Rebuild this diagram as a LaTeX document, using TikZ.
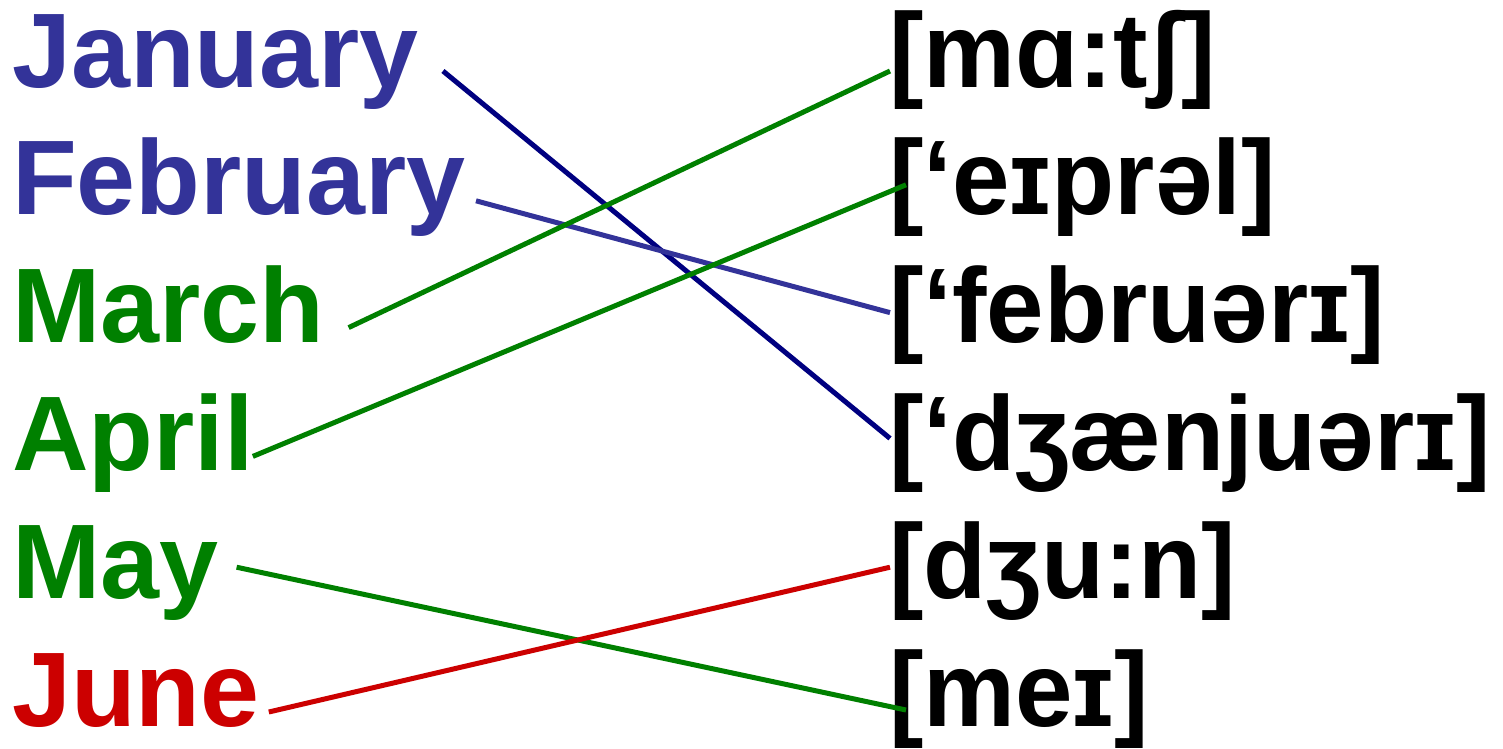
\documentclass[tikz,border=0pt]{standalone}
\usepackage{fontspec}
\setmainfont{Liberation Sans}
\newfontfamily\ipafont{Liberation Sans}[FakeStretch=0.975]
\definecolor{monthblue}{RGB}{51,51,153}
\definecolor{monthgreen}{RGB}{0,128,0}
\definecolor{monthred}{RGB}{204,0,0}
\definecolor{navyline}{RGB}{0,0,128}

\begin{document}
\begin{tikzpicture}[x=1pt, y=-1pt,
	word/.style={anchor=base west, inner sep=0pt, font=\fontsize{106}{120}\selectfont\bfseries},
	sound/.style={word, font=\fontsize{106}{120}\selectfont\ipafont\bfseries},
	link/.style={line width=5pt}]
	\useasboundingbox (0,0) rectangle (1503,748);

	\foreach \name/\word/\col [count=\i from 0] in {jan/January/monthblue, feb/February/monthblue, mar/March/monthgreen, apr/April/monthgreen, may/May/monthgreen, jun/June/monthred}
		\node[word, text=\col] (\name) at (12, 87+127.8*\i) {\word};

	\foreach \name/\word [count=\i from 0] in {pmar/{[mɑ:tʃ]}, papr/{[‘eɪprəl]}, pfeb/{[‘februərɪ]}, pjan/{[‘dʒænjuərɪ]}, pjun/{[dʒu:n]}, pmay/{[meɪ]}}
		\node[sound] (\name) at (889, 87+127.8*\i) {\word};

	\draw[link, navyline] ([shift={(24,-16)}]jan.base east) -- ([shift={(1,-32)}]pjan.base west);
	\draw[link, monthblue] ([shift={(10,-14)}]feb.base east) -- ([shift={(1,-30)}]pfeb.base west);
	\draw[link, monthgreen] ([shift={(24,-15)}]mar.base east) -- ([shift={(1,-16)}]pmar.base west);
	\draw[link, monthgreen] ([shift={(-1,-14)}]apr.base east) -- ([shift={(17,-30)}]papr.base west);
	\draw[link, monthgreen] ([shift={(18,-31)}]may.base east) -- ([shift={(17,-16)}]pmay.base west);
	\draw[link, monthred] ([shift={(9,-14)}]jun.base east) -- ([shift={(1,-31)}]pjun.base west);
\end{tikzpicture}
\end{document}
